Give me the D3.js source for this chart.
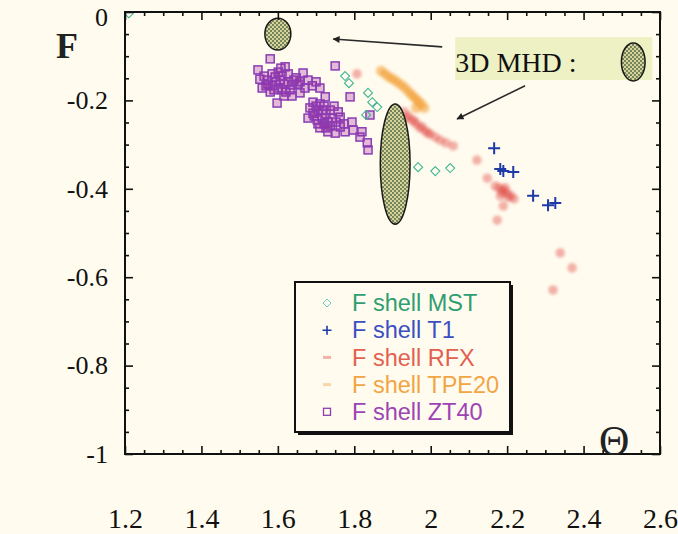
<!DOCTYPE html>
<html>
<head>
<meta charset="utf-8">
<script src="https://cdn.jsdelivr.net/npm/d3@7"></script>
<style>
  html, body { margin: 0; padding: 0; background: #fffcef; }
  svg { display: block; }
</style>
</head>
<body>
<script>
// Reversal parameter F versus pinch parameter Theta for several F-shell experiments
const thetaTicks = [1.2, 1.4, 1.6, 1.8, 2, 2.2, 2.4, 2.6];
const fTicks = [0, -0.2, -0.4, -0.6, -0.8, -1];

const mstTheta = [1.21, 1.776, 1.786, 1.836, 1.847, 1.860, 1.831, 1.967, 2.012, 2.051];
const mstF     = [-0.003, -0.145, -0.161, -0.183, -0.204, -0.215, -0.233, -0.351, -0.360, -0.353];

const t1Theta = [2.166, 2.182, 2.190, 2.216, 2.268, 2.307, 2.326];
const t1F     = [-0.308, -0.355, -0.360, -0.362, -0.416, -0.437, -0.432];

const rfxTheta = [1.807, 1.930, 1.941, 1.951, 1.962, 1.972, 1.985, 1.998, 2.012, 2.025, 2.040, 2.059,
                  1.936, 1.957, 1.977, 1.993,
                  2.121, 2.148, 2.169, 2.179, 2.190, 2.200, 2.210, 2.218, 2.182, 2.190, 2.174,
                  2.187, 2.203, 2.195, 2.339, 2.370, 2.320];
const rfxF     = [-0.140, -0.226, -0.235, -0.244, -0.253, -0.262, -0.269, -0.276, -0.283, -0.290, -0.296, -0.303,
                  -0.240, -0.247, -0.260, -0.274,
                  -0.335, -0.376, -0.394, -0.398, -0.403, -0.410, -0.416, -0.423, -0.416, -0.439, -0.471,
                  -0.407, -0.419, -0.398, -0.545, -0.579, -0.629];

const tpeTheta = [1.870, 1.881, 1.891, 1.902, 1.912, 1.923, 1.933, 1.943, 1.951, 1.959, 1.967, 1.975, 1.983, 1.962];
const tpeF     = [-0.133, -0.140, -0.147, -0.152, -0.158, -0.165, -0.172, -0.181, -0.188, -0.195, -0.201, -0.208, -0.217, -0.217];

const zt40Theta = [1.580, 1.548, 1.608, 1.619, 1.666, 1.553, 1.572, 1.593, 1.601, 1.559, 1.598, 1.637, 1.671, 1.658,
                   1.710, 1.724, 1.750, 1.574, 1.585, 1.595, 1.606, 1.616, 1.627, 1.632, 1.621, 1.611, 1.590, 1.580,
                   1.569, 1.642, 1.653, 1.648, 1.585, 1.611, 1.627, 1.564, 1.601, 1.637, 1.616, 1.658, 1.679, 1.690,
                   1.700,
                   1.692, 1.692, 1.679, 1.718, 1.731, 1.763, 1.763, 1.794, 1.776, 1.797, 1.820, 1.815, 1.834, 1.836,
                   1.731, 1.750, 1.703, 1.789, 1.841, 1.700, 1.710, 1.721, 1.705, 1.726, 1.737, 1.716, 1.695, 1.742,
                   1.752, 1.737, 1.721, 1.705, 1.773, 1.758, 1.747, 1.684, 1.710, 1.726];
const zt40F     = [-0.106, -0.131, -0.127, -0.124, -0.138, -0.152, -0.154, -0.147, -0.172, -0.172, -0.206, -0.165, -0.172, -0.183,
                   -0.172, -0.192, -0.122, -0.163, -0.167, -0.158, -0.154, -0.163, -0.158, -0.176, -0.181, -0.176, -0.176, -0.181,
                   -0.167, -0.154, -0.163, -0.149, -0.140, -0.145, -0.140, -0.145, -0.136, -0.190, -0.190, -0.158, -0.154, -0.167,
                   -0.158,
                   -0.204, -0.229, -0.240, -0.222, -0.249, -0.238, -0.260, -0.249, -0.271, -0.267, -0.271, -0.283, -0.296, -0.312,
                   -0.271, -0.274, -0.244, -0.192, -0.233, -0.213, -0.208, -0.213, -0.222, -0.231, -0.222, -0.240, -0.235, -0.240,
                   -0.249, -0.258, -0.253, -0.253, -0.253, -0.226, -0.213, -0.217, -0.262, -0.262];

// 3D MHD regions: centre and half-extent in (Theta, F)
const mhdTheta  = [1.600, 1.907];
const mhdF      = [-0.050, -0.344];
const mhdDTheta = [0.034, 0.039];
const mhdDF     = [0.036, 0.136];

const seriesNames = ["F shell MST", "F shell T1", "F shell RFX", "F shell TPE20", "F shell ZT40"];

const W = 678, H = 534;
const x = d3.scaleLinear().domain([1.2, 2.6]).range([125, 660]);
const y = d3.scaleLinear().domain([-1, 0]).range([454, 12]);

const svg = d3.select("body").append("svg").attr("width", W).attr("height", H);
const defs = svg.append("defs");

defs.append("filter").attr("id", "soft").attr("x", "-50%").attr("y", "-50%").attr("width", "200%").attr("height", "200%")
  .append("feGaussianBlur").attr("stdDeviation", 1.6);

const pat = defs.append("pattern").attr("id", "hatch").attr("patternUnits", "userSpaceOnUse")
  .attr("width", 4).attr("height", 4);
pat.append("rect").attr("width", 4).attr("height", 4).attr("fill", "#d6d39c");
pat.append("rect").attr("width", 2).attr("height", 2).attr("fill", "#76845a");
pat.append("rect").attr("x", 2).attr("y", 2).attr("width", 2).attr("height", 2).attr("fill", "#76845a");

defs.append("marker").attr("id", "head").attr("viewBox", "0 0 10 10").attr("refX", 9).attr("refY", 5)
  .attr("markerWidth", 9).attr("markerHeight", 7).attr("markerUnits", "userSpaceOnUse").attr("orient", "auto")
  .append("path").attr("d", "M0,0 L10,5 L0,10 Z").attr("fill", "#222");

defs.append("clipPath").attr("id", "plotclip").append("rect")
  .attr("x", x(1.2)).attr("y", y(0)).attr("width", x(2.6) - x(1.2)).attr("height", y(-1) - y(0));

svg.append("rect").attr("width", W).attr("height", H).attr("fill", "#fffcef");

const serif = "'Liberation Serif','Times New Roman',serif";
const sans = "'Liberation Sans',Arial,sans-serif";

// 3D MHD key box
const keyG = svg.append("g");
keyG.append("rect")
  .attr("x", x(2.064)).attr("y", y(-0.057))
  .attr("width", x(2.58) - x(2.064)).attr("height", y(-0.154) - y(-0.057))
  .attr("fill", "#edf1c4");
keyG.append("text").attr("x", x(2.064)).attr("y", y(-0.136))
  .attr("font-family", serif).attr("font-size", 28).attr("fill", "#111").text("3D MHD :");
keyG.append("ellipse")
  .attr("cx", x(2.53)).attr("cy", y(-0.113))
  .attr("rx", x(2.53 + 0.031) - x(2.53)).attr("ry", y(-0.113 - 0.043) - y(-0.113))
  .attr("fill", "url(#hatch)").attr("stroke", "#1a1a1a").attr("stroke-width", 1.5);

// arrows from the key to the MHD regions
const arrows = [[2.030, -0.079, 1.745, -0.061], [2.247, -0.167, 2.069, -0.242]];
svg.append("g").selectAll("line").data(arrows).join("line")
  .attr("x1", d => x(d[0])).attr("y1", d => y(d[1]))
  .attr("x2", d => x(d[2])).attr("y2", d => y(d[3]))
  .attr("stroke", "#2a2a2a").attr("stroke-width", 1.6).attr("marker-end", "url(#head)");

const plot = svg.append("g").attr("clip-path", "url(#plotclip)");

// RFX and TPE20 points
const zip = (a, b) => a.map((v, i) => [v, b[i]]);
plot.append("g").attr("filter", "url(#soft)").selectAll("circle").data(zip(rfxTheta, rfxF)).join("circle")
  .attr("cx", d => x(d[0])).attr("cy", d => y(d[1])).attr("r", 4.8)
  .attr("fill", "#e04a44").attr("fill-opacity", 0.42);
plot.append("g").attr("filter", "url(#soft)").selectAll("circle").data(zip(tpeTheta, tpeF)).join("circle")
  .attr("cx", d => x(d[0])).attr("cy", d => y(d[1])).attr("r", 5.2)
  .attr("fill", "#f29a2e").attr("fill-opacity", 0.55);

// ZT40 squares
const sq = 8;
plot.append("g").selectAll("rect").data(zip(zt40Theta, zt40F)).join("rect")
  .attr("x", d => x(d[0]) - sq / 2).attr("y", d => y(d[1]) - sq / 2)
  .attr("width", sq).attr("height", sq)
  .attr("fill", "#a0289a").attr("fill-opacity", 0.3)
  .attr("stroke", "#8a3cb4").attr("stroke-width", 1.5);

// MST diamonds
const diamond = (cx, cy, r) => `M${cx},${cy - r}L${cx + r},${cy}L${cx},${cy + r}L${cx - r},${cy}Z`;
plot.append("g").selectAll("path").data(zip(mstTheta, mstF)).join("path")
  .attr("d", d => diamond(x(d[0]), y(d[1]), 4.5))
  .attr("fill", "none").attr("stroke", "#3fb595").attr("stroke-width", 1.1);

// T1 crosses
const cross = (cx, cy, r) => `M${cx - r},${cy}H${cx + r}M${cx},${cy - r}V${cy + r}`;
plot.append("g").selectAll("path").data(zip(t1Theta, t1F)).join("path")
  .attr("d", d => cross(x(d[0]), y(d[1]), 6))
  .attr("fill", "none").attr("stroke", "#1e3aa6").attr("stroke-width", 2);

// MHD regions
svg.append("g").selectAll("ellipse").data(mhdTheta.map((t, i) => i)).join("ellipse")
  .attr("cx", i => x(mhdTheta[i])).attr("cy", i => y(mhdF[i]))
  .attr("rx", i => x(mhdTheta[i] + mhdDTheta[i]) - x(mhdTheta[i]))
  .attr("ry", i => y(mhdF[i] - mhdDF[i]) - y(mhdF[i]))
  .attr("fill", "url(#hatch)").attr("stroke", "#1a1a1a").attr("stroke-width", 1.5);

// frame with inward ticks on all four sides
const minorX = d3.range(1.2, 2.6001, 0.05).filter(v => Math.abs(Math.round(v * 5) - v * 5) > 1e-6);
const minorY = d3.range(-1, 0.0001, 0.05).filter(v => Math.abs(Math.round(v * 5) - v * 5) > 1e-6);
const styleAxis = g => { g.select(".domain").remove(); g.selectAll("line").attr("stroke", "#111").attr("stroke-width", 1.6); };

const frame = svg.append("g");
[[d3.axisBottom, y(-1)], [d3.axisTop, y(0)]].forEach(([ax, pos]) => {
  frame.append("g").attr("transform", `translate(0,${pos})`).call(ax(x).tickValues(thetaTicks).tickSize(-8).tickFormat("")).call(styleAxis);
  frame.append("g").attr("transform", `translate(0,${pos})`).call(ax(x).tickValues(minorX).tickSize(-4).tickFormat("")).call(styleAxis);
});
[[d3.axisLeft, x(1.2)], [d3.axisRight, x(2.6)]].forEach(([ax, pos]) => {
  frame.append("g").attr("transform", `translate(${pos},0)`).call(ax(y).tickValues(fTicks).tickSize(-8).tickFormat("")).call(styleAxis);
  frame.append("g").attr("transform", `translate(${pos},0)`).call(ax(y).tickValues(minorY).tickSize(-4).tickFormat("")).call(styleAxis);
});
frame.append("rect").attr("x", x(1.2)).attr("y", y(0)).attr("width", x(2.6) - x(1.2)).attr("height", y(-1) - y(0))
  .attr("fill", "none").attr("stroke", "#111").attr("stroke-width", 2);

// tick labels (plain hyphen for negatives)
const plain = d => String(d);
const xl = svg.append("g").attr("transform", `translate(0,${y(-1)})`)
  .call(d3.axisBottom(x).tickValues(thetaTicks).tickSize(0).tickPadding(54).tickFormat(plain));
xl.select(".domain").remove();
xl.selectAll("text").attr("font-family", serif).attr("font-size", 28).attr("fill", "#111");

const yl = svg.append("g").attr("transform", `translate(${x(1.2)},0)`)
  .call(d3.axisLeft(y).tickValues(fTicks).tickSize(0).tickPadding(17).tickFormat(plain));
yl.select(".domain").remove();
yl.selectAll("text").attr("font-family", serif).attr("font-size", 26).attr("fill", "#111")
  .attr("dy", d => d === 0 ? "0.5em" : "0.32em");

// axis titles
svg.append("text").attr("x", 56).attr("y", 58).attr("font-family", serif).attr("font-weight", "bold")
  .attr("font-size", 36).attr("fill", "#222").text("F");
svg.append("text").attr("x", 599).attr("y", 455).attr("font-family", serif)
  .attr("font-size", 42).attr("fill", "#222").text("Θ");

// legend
const lg = svg.append("g");
const lx = 295, ly = 282, lw = 215, lh = 150;
lg.append("rect").attr("x", lx + 3).attr("y", ly + 3).attr("width", lw).attr("height", lh).attr("fill", "#111");
lg.append("rect").attr("x", lx).attr("y", ly).attr("width", lw).attr("height", lh)
  .attr("fill", "#fffcef").attr("stroke", "#111").attr("stroke-width", 2);

const legendColors = ["#2f9e72", "#3b4fc2", "#e2604f", "#f3a443", "#9c44b4"];
const rowY = i => ly + 21 + i * 27.2;
const mx = 327;
lg.selectAll("text").data(seriesNames).join("text")
  .attr("x", 352).attr("y", (d, i) => rowY(i)).attr("dy", "0.35em")
  .attr("font-family", sans).attr("font-size", 23.5).attr("fill", (d, i) => legendColors[i])
  .text(d => d);
lg.append("path").attr("d", diamond(mx, rowY(0), 4)).attr("fill", "none").attr("stroke", "#6cc8c0").attr("stroke-width", 1);
lg.append("path").attr("d", cross(mx, rowY(1), 4.5)).attr("stroke", "#1e3aa6").attr("stroke-width", 1.6);
lg.append("line").attr("x1", mx - 4).attr("x2", mx + 4).attr("y1", rowY(2)).attr("y2", rowY(2))
  .attr("stroke", "#eea096").attr("stroke-width", 3).attr("stroke-opacity", 0.8);
lg.append("line").attr("x1", mx - 4).attr("x2", mx + 4).attr("y1", rowY(3)).attr("y2", rowY(3))
  .attr("stroke", "#f6cc98").attr("stroke-width", 3).attr("stroke-opacity", 0.8);
lg.append("rect").attr("x", mx - 3.5).attr("y", rowY(4) - 3.5).attr("width", 7).attr("height", 7)
  .attr("fill", "none").attr("stroke", "#8b3fb0").attr("stroke-width", 1.3);
</script>
</body>
</html>
